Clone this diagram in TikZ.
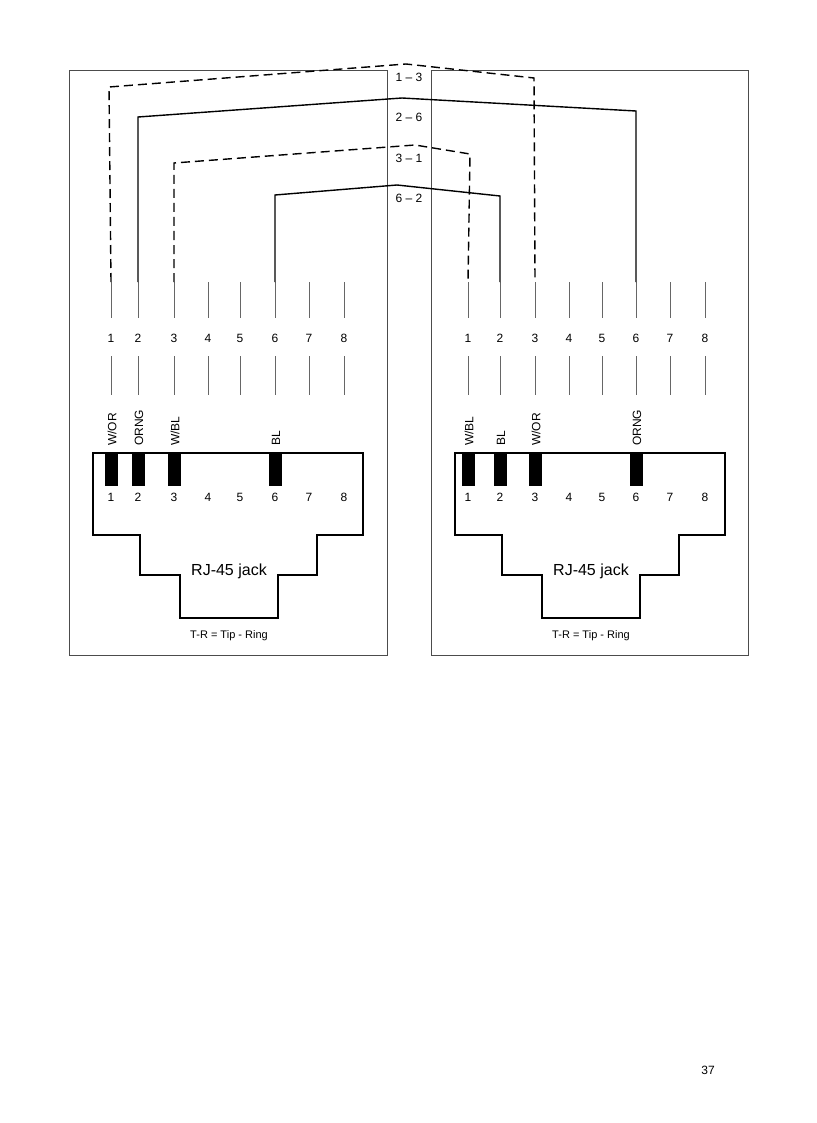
\documentclass[tikz,border=0pt]{standalone}
\usepackage{fontspec}
\setmainfont{Liberation Sans}
\begin{document}
\begin{tikzpicture}[x=1pt,y=-1pt,
  boxline/.style={draw=black!70,line width=0.9pt},
  tick/.style={draw=black!60,line width=0.8pt},
  wire/.style={draw=black,line width=1.4pt},
  dwire/.style={wire,dash pattern=on 9pt off 5pt},
  num/.style={font=\fontsize{12}{13}\selectfont,inner sep=0pt},
  col/.style={font=\fontsize{12}{13}\selectfont,rotate=90,anchor=west,inner sep=0pt},
  jack/.style={draw=black,line width=1.4pt}]
\useasboundingbox (0,0) rectangle (816,1123);
\draw[boxline] (69,70) rectangle (387,655);
\draw[boxline] (431,70) rectangle (748,655);
% pins
\foreach \side/\xs in {L/{111,138,174,208,240,275,309,344},R/{468,500,535,569,602,636,670,705}}{
  \foreach \x [count=\i] in \xs {
    \coordinate (\side top\i) at (\x,282);
    \draw[tick] (\x,282) -- (\x,318);
    \node[num] at (\x,338) {\i};
    \draw[tick] (\x,356) -- (\x,395);
  }}
% wires
\draw[dwire] (Ltop1) -- (109,87) -- (406,64) -- (534,78) -- (Rtop3);
\draw[wire] (Ltop2) -- (138,117) -- (402,98) -- (636,111) -- (Rtop6);
\draw[dwire] (Ltop3) -- (174,163) -- (415,145) -- (470,154) -- (Rtop1);
\draw[wire] (Ltop6) -- (275,195) -- (397,185) -- (500,196) -- (Rtop2);
\foreach \t/\y in {1 -- 3/77,2 -- 6/117,3 -- 1/158,6 -- 2/198}
  \node[num,fill=white,inner sep=1.5pt] at (409,\y) {\t};
% jacks
\foreach \o/\xs in {0/{111,138,174,208,240,275,309,344},362/{468,500,535,569,602,636,670,705}}{
  \begin{scope}[xshift=\o]
  \draw[jack] (93,453) -- (363,453) -- (363,535) -- (317,535) -- (317,575) -- (278,575) -- (278,618) -- (180,618) -- (180,575) -- (140,575) -- (140,535) -- (93,535) -- cycle;
  \node[font=\fontsize{16}{18}\selectfont,fill=white,inner sep=1pt] (rj\o) at (229,571) {RJ-45 jack};
  \node[font=\fontsize{11}{12}\selectfont] (tr\o) at (229,636) {T-R = Tip - Ring};
  \end{scope}
  \foreach \x [count=\i] in \xs {
    \node[num] at (\x,497) {\i};
  }
}
\foreach \x/\l in {111/W\slash OR,138/ORNG,174/W\slash BL,275/BL,468/W\slash BL,500/BL,535/W\slash OR,636/ORNG}{
  \fill (\x-6,454) rectangle (\x+7,486);
  \node[col] at (\x+1,446) {\l};
}
\node[font=\fontsize{12}{14}\selectfont] (pg) at (708,1070) {37};
\end{tikzpicture}
\end{document}
